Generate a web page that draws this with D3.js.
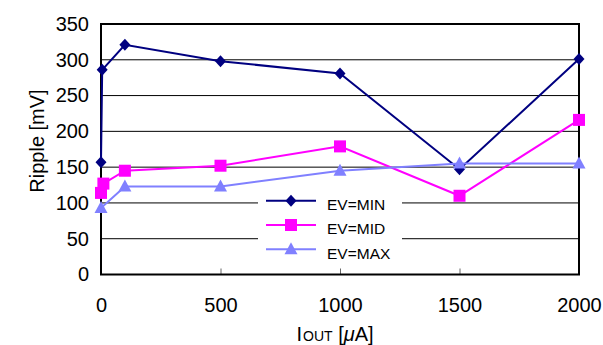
<!DOCTYPE html>
<html>
<head>
<meta charset="utf-8">
<script src="https://cdn.jsdelivr.net/npm/d3@7"></script>
<style>
  html, body { margin: 0; padding: 0; background: #fff; }
  svg { display: block; font-family: "Liberation Sans", Arial, sans-serif; }
</style>
</head>
<body>
<svg id="chart" width="603" height="345"></svg>
<script>
// ---- data ----
const minX = [0, 5, 100, 500, 1000, 1500, 2000];
const minY = [157, 286, 321, 298, 281, 147, 301];
const midX = [0, 10, 100, 500, 1000, 1500, 2000];
const midY = [114, 127, 145, 152, 179, 110, 216];
const maxX = [0, 100, 500, 1000, 1500, 2000];
const maxY = [93, 123, 123, 145, 155, 155];
const seriesNames = ["EV=MIN", "EV=MID", "EV=MAX"];
const xTicks = [0, 500, 1000, 1500, 2000];
const yTicks = [0, 50, 100, 150, 200, 250, 300, 350];

// ---- layout ----
const svg = d3.select("#chart");
const L = 101, R = 579, T = 24, B = 274.5;
const x = d3.scaleLinear().domain([0, 2000]).range([L, R]);
const y = d3.scaleLinear().domain([0, 350]).range([B, T]);

const series = [
  { name: seriesNames[0], xs: minX, ys: minY, color: "#000080", shape: "diamond" },
  { name: seriesNames[1], xs: midX, ys: midY, color: "#FF00FF", shape: "square" },
  { name: seriesNames[2], xs: maxX, ys: maxY, color: "#8080FF", shape: "triangle" }
];

// gridlines
svg.append("g").selectAll("line").data(yTicks.slice(1, -1)).join("line")
  .attr("x1", L).attr("x2", R)
  .attr("y1", d => y(d)).attr("y2", d => y(d))
  .attr("stroke", "#000").attr("stroke-width", 1);

// x axis (inward ticks)
const xAxis = svg.append("g").attr("transform", `translate(0,${B})`)
  .call(d3.axisBottom(x).tickValues(xTicks).tickSizeInner(-6).tickSizeOuter(0).tickPadding(23).tickFormat(d3.format("d")));
xAxis.select(".domain").remove();
xAxis.selectAll("line").attr("stroke", "#666");
xAxis.selectAll("text").attr("font-size", 20).attr("fill", "#000").attr("font-family", "Liberation Sans, Arial, sans-serif");

// y axis
const yAxis = svg.append("g").attr("transform", `translate(${L},0)`)
  .call(d3.axisLeft(y).tickValues(yTicks).tickSize(0).tickPadding(12));
yAxis.select(".domain").remove();
yAxis.selectAll("text").attr("font-size", 20).attr("fill", "#000").attr("font-family", "Liberation Sans, Arial, sans-serif");

// frame
svg.append("rect").attr("x", L).attr("y", T).attr("width", R - L).attr("height", B - T)
  .attr("fill", "none").attr("stroke", "#000").attr("stroke-width", 2);

// markers
function marker(sel, shape, color) {
  if (shape === "diamond") {
    sel.append("path").attr("d", "M0,-6L5.5,0L0,6L-5.5,0Z").attr("fill", color);
  } else if (shape === "square") {
    sel.append("rect").attr("x", -6).attr("y", -6).attr("width", 12).attr("height", 12).attr("fill", color);
  } else {
    sel.append("path").attr("d", "M0,-7L6.5,5L-6.5,5Z").attr("fill", color);
  }
}

// lines + points
const line = d3.line().x(d => x(d[0])).y(d => y(d[1]));
series.forEach(s => {
  const pts = s.xs.map((v, i) => [v, s.ys[i]]);
  svg.append("path").datum(pts).attr("d", line)
    .attr("fill", "none").attr("stroke", s.color).attr("stroke-width", 2);
  svg.append("g").selectAll("g").data(pts).join("g")
    .attr("transform", d => `translate(${x(d[0])},${y(d[1])})`)
    .each(function() { marker(d3.select(this), s.shape, s.color); });
});

// legend
const lg = svg.append("g");
lg.append("rect").attr("x", 258).attr("y", 188).attr("width", 144).attr("height", 74).attr("fill", "#fff");
const rowY = [200.7, 225, 249.3];
series.forEach((s, i) => {
  const g = lg.append("g").attr("transform", `translate(0,${rowY[i]})`);
  g.append("line").attr("x1", 266).attr("x2", 316).attr("y1", 0).attr("y2", 0)
    .attr("stroke", s.color).attr("stroke-width", 2);
  const m = g.append("g").attr("transform", "translate(291,0)");
  marker(m, s.shape, s.color);
  g.append("text").attr("x", 327).attr("y", 4).attr("dy", "0.35em")
    .attr("font-size", 15.5).attr("fill", "#000").text(s.name);
});

// axis titles
svg.append("text").attr("transform", "translate(43.7,141) rotate(-90)")
  .attr("text-anchor", "middle").attr("font-size", 20).attr("fill", "#000").text("Ripple [mV]");

const xt = svg.append("text").attr("x", 296.5).attr("y", 340.5).attr("font-size", 20).attr("fill", "#000");
xt.append("tspan").text("I");
xt.append("tspan").attr("font-size", 14).attr("dx", 1).text("OUT");
xt.append("tspan").text(" [");
xt.append("tspan").attr("font-style", "italic").text("\u03BC");
xt.append("tspan").text("A]");
</script>
</body>
</html>
